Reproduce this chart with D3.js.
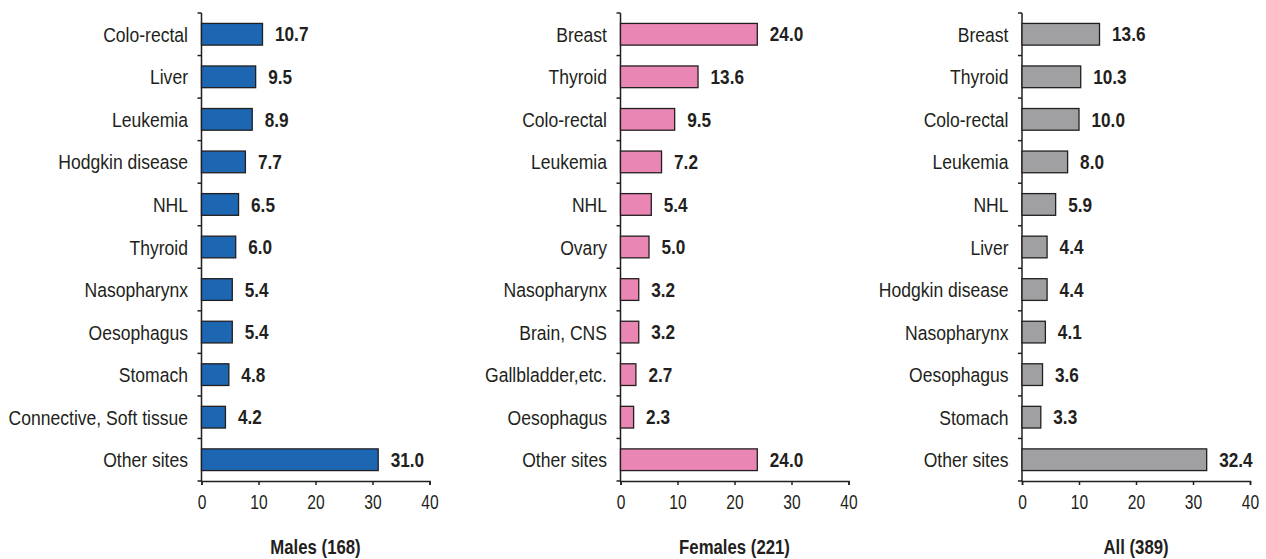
<!DOCTYPE html>
<html>
<head>
<meta charset="utf-8">
<script src="https://cdn.jsdelivr.net/npm/d3@7"></script>
<style>
  body { margin: 0; background: #fff; }
  text { font-family: "Liberation Sans", Arial, sans-serif; fill: #231f20; }
</style>
</head>
<body>
<script>
const malesSites = ["Colo-rectal", "Liver", "Leukemia", "Hodgkin disease", "NHL", "Thyroid", "Nasopharynx", "Oesophagus", "Stomach", "Connective, Soft tissue", "Other sites"];
const malesValues = [10.7, 9.5, 8.9, 7.7, 6.5, 6.0, 5.4, 5.4, 4.8, 4.2, 31.0];

const femalesSites = ["Breast", "Thyroid", "Colo-rectal", "Leukemia", "NHL", "Ovary", "Nasopharynx", "Brain, CNS", "Gallbladder,etc.", "Oesophagus", "Other sites"];
const femalesValues = [24.0, 13.6, 9.5, 7.2, 5.4, 5.0, 3.2, 3.2, 2.7, 2.3, 24.0];

const allSites = ["Breast", "Thyroid", "Colo-rectal", "Leukemia", "NHL", "Liver", "Hodgkin disease", "Nasopharynx", "Oesophagus", "Stomach", "Other sites"];
const allValues = [13.6, 10.3, 10.0, 8.0, 5.9, 4.4, 4.4, 4.1, 3.6, 3.3, 32.4];

const panelTitles = ["Males (168)", "Females (221)", "All (389)"];
const xTicks = [0, 10, 20, 30, 40];

const svg = d3.select("body")
  .append("svg")
  .attr("width", 1266)
  .attr("height", 559);

const panels = [
  { sites: malesSites, values: malesValues, title: panelTitles[0], left: 201.5, color: "#1c66b2" },
  { sites: femalesSites, values: femalesValues, title: panelTitles[1], left: 620.5, color: "#ea86b3" },
  { sites: allSites, values: allValues, title: panelTitles[2], left: 1022, color: "#a0a0a2" }
];

const plotTop = 13, plotBottom = 481, plotW = 228;

// text squeezed sideways to look like the narrow font of the original
const squeeze = (x, y, s) => `translate(${x},${y}) scale(${s},1)`;

panels.forEach(p => {
  const x = d3.scaleLinear().domain([0, 40]).range([p.left, p.left + plotW]);
  const y = d3.scaleBand().domain(p.sites).range([plotTop, plotBottom]).paddingInner(0.49).paddingOuter(0.245);
  const g = svg.append("g");

  // y axis line with ticks at band edges
  g.append("line")
    .attr("x1", p.left).attr("x2", p.left)
    .attr("y1", plotTop).attr("y2", plotBottom)
    .attr("stroke", "#231f20").attr("stroke-width", 1.5);

  const step = (plotBottom - plotTop) / p.sites.length;
  d3.range(p.sites.length + 1).forEach(i => {
    g.append("line")
      .attr("x1", p.left - 4).attr("x2", p.left)
      .attr("y1", plotTop + i * step).attr("y2", plotTop + i * step)
      .attr("stroke", "#231f20").attr("stroke-width", 1.5);
  });

  // x axis
  const xAxis = g.append("g")
    .attr("transform", `translate(0,${plotBottom})`)
    .call(d3.axisBottom(x).tickValues(xTicks).tickSize(4).tickPadding(10).tickFormat(d3.format("d")));
  xAxis.attr("font-family", null);
  xAxis.select(".domain").attr("stroke", "#231f20").attr("stroke-width", 1.5);
  xAxis.selectAll(".tick line").attr("stroke", "#231f20").attr("stroke-width", 1.5);
  xAxis.selectAll(".tick text")
    .attr("font-size", 20)
    .attr("fill", "#231f20")
    .attr("transform", "scale(0.78,1)");

  // bars
  g.selectAll("rect.bar")
    .data(p.values)
    .enter()
    .append("rect")
    .attr("class", "bar")
    .attr("x", x(0))
    .attr("y", (d, i) => y(p.sites[i]))
    .attr("width", d => x(d) - x(0))
    .attr("height", y.bandwidth())
    .attr("fill", p.color)
    .attr("stroke", "#231f20")
    .attr("stroke-width", 1.3);

  // value labels
  g.selectAll("text.val")
    .data(p.values)
    .enter()
    .append("text")
    .attr("class", "val")
    .attr("transform", (d, i) => squeeze(x(d) + 12.5, y(p.sites[i]) + y.bandwidth() / 2, 0.86))
    .attr("dy", "0.36em")
    .attr("font-size", 20)
    .attr("font-weight", "bold")
    .text(d => d.toFixed(1));

  // category labels
  g.selectAll("text.cat")
    .data(p.sites)
    .enter()
    .append("text")
    .attr("class", "cat")
    .attr("transform", d => squeeze(p.left - 13.5, y(d) + y.bandwidth() / 2 + 0.5, 0.9))
    .attr("dy", "0.36em")
    .attr("text-anchor", "end")
    .attr("font-size", 19.5)
    .text(d => d);

  // panel title
  g.append("text")
    .attr("transform", squeeze(p.left + plotW / 2, 554, 0.86))
    .attr("text-anchor", "middle")
    .attr("font-size", 19.5)
    .attr("font-weight", "bold")
    .text(p.title);
});
</script>
</body>
</html>
